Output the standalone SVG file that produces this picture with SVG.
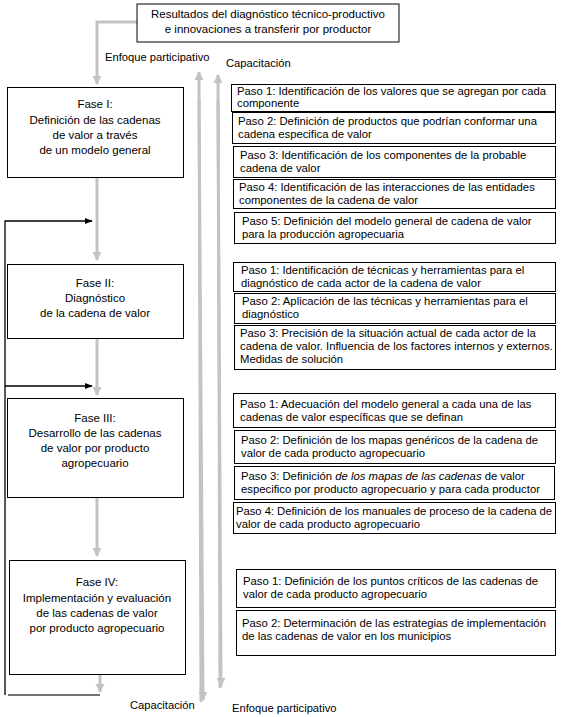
<svg xmlns="http://www.w3.org/2000/svg" width="562" height="717" viewBox="0 0 562 717">
<defs>
<marker id="ga" viewBox="0 0 10 10" refX="9" refY="5" markerWidth="3" markerHeight="3.2" orient="auto" markerUnits="strokeWidth"><path d="M0,0 L10,5 L0,10 z" fill="#c3c3c3"/></marker>
<marker id="ba" viewBox="0 0 10 10" refX="9" refY="5" markerWidth="6" markerHeight="6" orient="auto" markerUnits="strokeWidth"><path d="M0,1 L10,5 L0,9 z" fill="#000"/></marker>
</defs>
<style>
text{font-family:"Liberation Sans",Arial,sans-serif;fill:#000}
.f{font-size:11.5px;text-anchor:middle}
.s{font-size:11.3px}
.l{font-size:11.2px}
.box{fill:#fff;stroke:#000;stroke-width:1}
.g{fill:none;stroke:#c3c3c3;stroke-width:3}
.k{fill:none;stroke:#000;stroke-width:1.3}
</style>
<g id="connectors">
<path class="g" d="M137,22 H97 V84" marker-end="url(#ga)"/>
<path class="g" d="M97,177 V260" marker-end="url(#ga)"/>
<path class="g" d="M97,338 V395" marker-end="url(#ga)"/>
<path class="g" d="M97,498 V556" marker-end="url(#ga)"/>
<path class="g" d="M100,674 V692" marker-end="url(#ga)"/>
<path class="g" d="M201,702 L199,72" marker-end="url(#ga)"/>
<path class="g" d="M199,100 L203,700" marker-end="url(#ga)"/>
<path class="g" d="M220,688 L218,75" marker-end="url(#ga)"/>
<path class="g" d="M218,100 L221,686" marker-end="url(#ga)"/>
<path class="k" d="M5,695 V221 H92" marker-end="url(#ba)"/>
<path class="k" d="M5,386 H92" marker-end="url(#ba)"/>
<path d="M8,695 H100" fill="none" stroke="#444" stroke-width="1.3"/>
</g>
<g id="top">
<rect class="box" x="137" y="4" width="262" height="38"/>
<text class="f" x="268" y="18" font-size="11px">Resultados del diagnóstico técnico-productivo</text>
<text class="f" x="268" y="33">e innovaciones a transferir por productor</text>
</g>
<g id="labels">
<text class="l" x="105" y="61">Enfoque participativo</text>
<text class="l" x="226" y="67">Capacitación</text>
<text class="l" x="130" y="709">Capacitación</text>
<text class="l" x="232" y="712">Enfoque participativo</text>
</g>
<g id="fase1">
<rect class="box" x="7.5" y="87.5" width="176" height="90"/>
<text class="f" x="95" y="108">Fase I:</text>
<text class="f" x="95" y="124">Definición de las cadenas</text>
<text class="f" x="95" y="139">de valor a través</text>
<text class="f" x="95" y="154">de un modelo general</text>
</g>
<g id="fase2">
<rect class="box" x="7.5" y="264.5" width="176" height="74"/>
<text class="f" x="95" y="287">Fase II:</text>
<text class="f" x="95" y="302">Diagnóstico</text>
<text class="f" x="95" y="317">de la cadena de valor</text>
</g>
<g id="fase3">
<rect class="box" x="7.5" y="398.5" width="176" height="99"/>
<text class="f" x="95" y="422">Fase III:</text>
<text class="f" x="95" y="437">Desarrollo de las cadenas</text>
<text class="f" x="95" y="452">de valor por producto</text>
<text class="f" x="95" y="467">agropecuario</text>
</g>
<g id="fase4">
<rect class="box" x="9.5" y="560.5" width="176" height="114"/>
<text class="f" x="97" y="586">Fase IV:</text>
<text class="f" x="97" y="602">Implementación y evaluación</text>
<text class="f" x="97" y="617">de las cadenas de valor</text>
<text class="f" x="97" y="632">por producto agropecuario</text>
</g>
<g id="f1p1"><rect class="box" x="231.5" y="84.5" width="324" height="27"/>
<text class="s" x="237" y="95">Paso 1: Identificación de los valores que se agregan por cada</text>
<text class="s" x="237" y="107">componente</text></g>
<g id="f1p2"><rect class="box" x="232.5" y="112.5" width="323" height="31"/>
<text class="s" x="238" y="125">Paso 2: Definición de productos que podrían conformar una</text>
<text class="s" x="238" y="138">cadena especifica de valor</text></g>
<g id="f1p3"><rect class="box" x="233.5" y="146.5" width="322" height="31"/>
<text class="s" x="240" y="159">Paso 3: Identificación de los componentes de la probable</text>
<text class="s" x="240" y="172">cadena de valor</text></g>
<g id="f1p4"><rect class="box" x="233.5" y="179.5" width="322" height="29"/>
<text class="s" x="239" y="191">Paso 4: Identificación de las interacciones de las entidades</text>
<text class="s" x="239" y="204">componentes de la cadena de valor</text></g>
<g id="f1p5"><rect class="box" x="234.5" y="212.5" width="321" height="31"/>
<text class="s" x="242" y="225">Paso 5: Definición del modelo general de cadena de valor</text>
<text class="s" x="242" y="238">para la producción agropecuaria</text></g>
<g id="f2p1"><rect class="box" x="233.5" y="262.5" width="322" height="29"/>
<text class="s" x="241" y="274">Paso 1: Identificación de técnicas y herramientas para el</text>
<text class="s" x="241" y="287">diagnóstico de cada actor de la cadena de valor</text></g>
<g id="f2p2"><rect class="box" x="234.5" y="293.5" width="321" height="30"/>
<text class="s" x="242" y="305">Paso 2: Aplicación de las técnicas y herramientas para el</text>
<text class="s" x="242" y="318">diagnóstico</text></g>
<g id="f2p3"><rect class="box" x="234.5" y="325.5" width="321" height="44"/>
<text class="s" x="240" y="337">Paso 3: Precisión de la situación actual de cada actor de la</text>
<text class="s" x="240" y="350">cadena de valor. Influencia de los factores internos y externos.</text>
<text class="s" x="240" y="363">Medidas de solución</text></g>
<g id="f3p1"><rect class="box" x="233.5" y="393.5" width="322" height="34"/>
<text class="s" x="240" y="408">Paso 1: Adecuación del modelo general a cada una de las</text>
<text class="s" x="240" y="421">cadenas de valor específicas que se definan</text></g>
<g id="f3p2"><rect class="box" x="234.5" y="430.5" width="321" height="33"/>
<text class="s" x="241" y="444">Paso 2: Definición de los mapas genéricos de la cadena de</text>
<text class="s" x="241" y="457">valor de cada producto agropecuario</text></g>
<g id="f3p3"><rect class="box" x="234.5" y="466.5" width="320" height="33"/>
<text class="s" x="241" y="480">Paso 3: Definición<tspan font-style="italic"> de los mapas de las cadenas</tspan> de valor</text>
<text class="s" x="241" y="493">especifico por producto agropecuario y para cada productor</text></g>
<g id="f3p4"><rect class="box" x="233.5" y="502.5" width="322" height="31"/>
<text class="s" x="236" y="515" textLength="316">Paso 4: Definición de los manuales de proceso de la cadena de</text>
<text class="s" x="236" y="528">valor de cada producto agropecuario</text></g>
<g id="f4p1"><rect class="box" x="236.5" y="569.5" width="319" height="38"/>
<text class="s" x="243" y="585">Paso 1: Definición de los puntos críticos de las cadenas de</text>
<text class="s" x="243" y="598">valor de cada producto agropecuario</text></g>
<g id="f4p2"><rect class="box" x="236.5" y="610.5" width="319" height="45"/>
<text class="s" x="242" y="627">Paso 2: Determinación de las estrategias de implementación</text>
<text class="s" x="242" y="640">de las cadenas de valor en los municipios</text></g>
</svg>
